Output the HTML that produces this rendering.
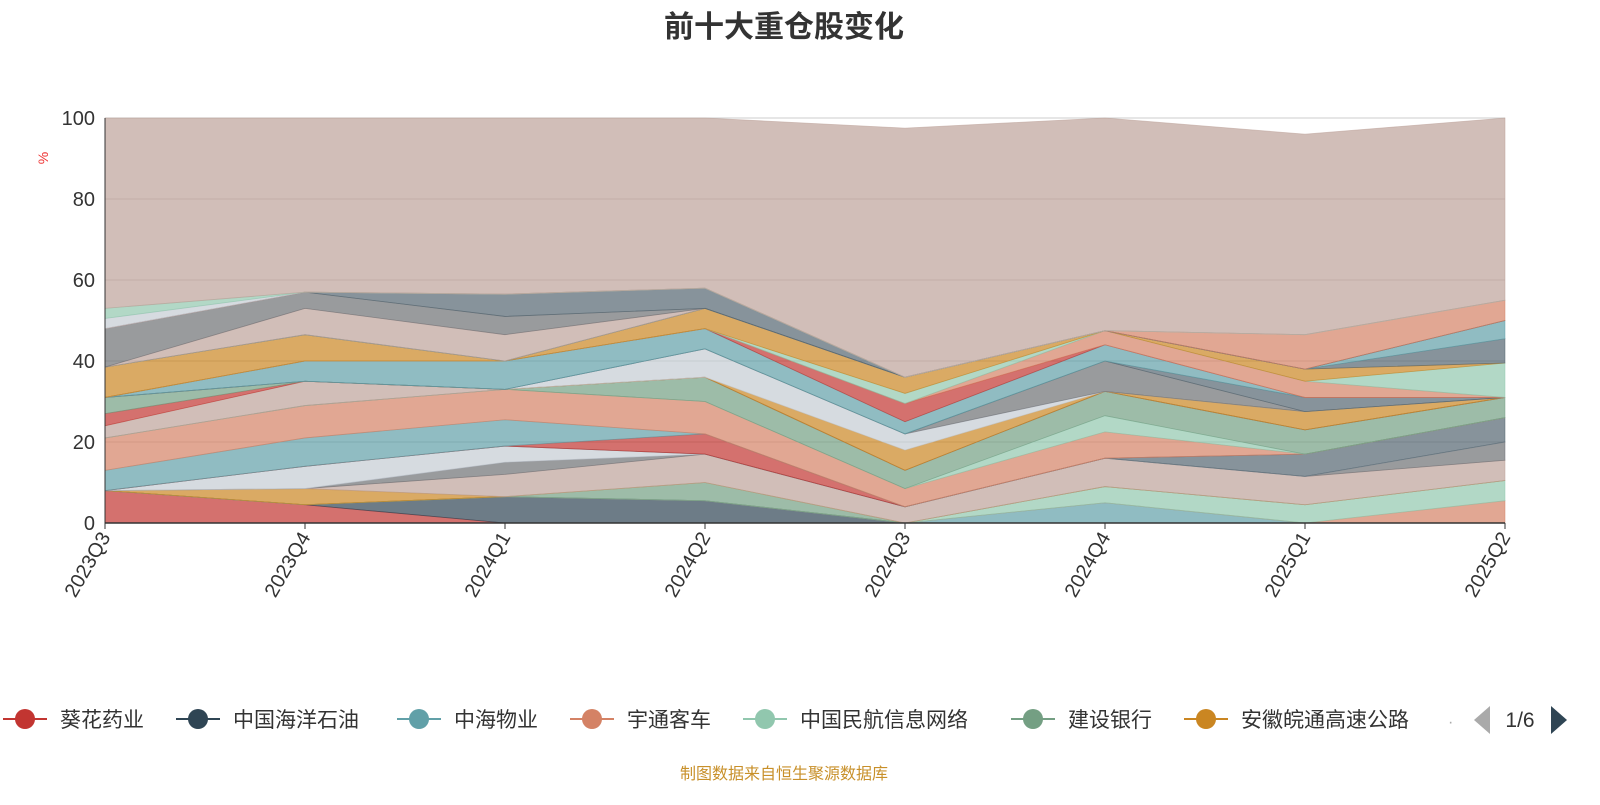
<!DOCTYPE html>
<html><head><meta charset="utf-8"><style>
body{margin:0;background:#fff;width:1600px;height:800px;overflow:hidden;font-family:"Liberation Sans","Noto Sans CJK SC",sans-serif;}
</style></head><body>
<svg id="chart" width="1600" height="800" xmlns="http://www.w3.org/2000/svg" font-family="Liberation Sans, Noto Sans CJK SC, sans-serif">
<text x="784" y="37" text-anchor="middle" font-size="30" font-weight="bold" fill="#333">前十大重仓股变化</text>
<text x="48" y="158" font-size="14" fill="#e33" transform="rotate(-90 48 158)" text-anchor="middle">%</text>
<g id="grid"></g><g id="areas"></g><g id="axes"></g>
<g id="legend"></g>
<text x="784" y="779" text-anchor="middle" font-size="16" fill="#c8902a">制图数据来自恒生聚源数据库</text>
</svg>
<script>
const categories=["2023Q3","2023Q4","2024Q1","2024Q2","2024Q3","2024Q4","2025Q1","2025Q2"];
const yTicks=[0,20,40,60,80,100];
const seriesNames=["葵花药业","中国海洋石油","中海物业","宇通客车","中国民航信息网络","建设银行","安徽皖通高速公路","招商银行","腾讯控股","贵州茅台","中国移动","长江电力","美的集团","格力电器","中国神华","工商银行","紫金矿业","万华化学","平安银行","海尔智家","伊利股份","五粮液","中国平安","宁德时代","比亚迪","恒瑞医药","迈瑞医疗","海螺水泥","农业银行","中国石化","交通银行","兴业银行","牧原股份","京沪高铁","中远海控","顺丰控股","其他"];
const seriesColors=["#c23531","#2f4554","#61a0a8","#d48265","#91c7ae","#749f83","#ca8622","#bda29a","#6e7074","#c4ccd3","#546570","#c23531","#61a0a8","#d48265","#91c7ae","#749f83","#bda29a","#c23531","#749f83","#ca8622","#c4ccd3","#6e7074","#546570","#61a0a8","#c23531","#d48265","#91c7ae","#ca8622","#546570","#61a0a8","#bda29a","#6e7074","#546570","#d48265","#c4ccd3","#91c7ae","#bda29a"];
const s01=[8,4.5,0,0,0,0,0,0];
const s02=[0,0,6.5,5.5,0,0,0,0];
const s03=[0,0,0,0,0,5,0,0];
const s04=[0,0,0,0,0,0,0,5.5];
const s05=[0,0,0,0,0,4,4.5,5];
const s06=[0,0,0,4.5,0,0,0,0];
const s07=[0,4,0,0,0,0,0,0];
const s08=[0,0,5.5,7,4,7,7,5];
const s09=[0,0,3,0,0,0,0,4.5];
const s10=[0,5.5,4,0,0,0,0,0];
const s11=[0,0,0,0,0,0,5.5,6];
const s12=[0,0,0,5,0,0,0,0];
const s13=[5,7,6.5,0,0,0,0,0];
const s14=[8,8,7.5,8,4.5,6.5,0,0];
const s15=[0,0,0,0,0,4,0,0];
const s16=[0,0,0,6,4.5,6,6,5];
const s17=[3,6,0,0,0,0,0,0];
const s18=[3,0,0,0,0,0,0,0];
const s19=[4,0,0,0,0,0,0,0];
const s20=[0,0,0,0,5,0,4.5,0];
const s21=[0,0,0,7,4,0,0,0];
const s22=[0,0,0,0,0,7.5,0,0];
const s23=[0,0,0,0,0,0,3.5,0];
const s24=[0,5,7,5,3,4,0,0];
const s25=[0,0,0,0,4.5,0,0,0];
const s26=[0,0,0,0,0,3.5,4,0];
const s27=[0,0,0,0,2.5,0,0,8.5];
const s28=[7.5,6.5,0,5,4,0,3,0];
const s29=[0,0,0,0,0,0,0,6];
const s30=[0,0,0,0,0,0,0,4.5];
const s31=[0,6.5,6.5,0,0,0,0,0];
const s32=[9.5,4,4.5,0,0,0,0,0];
const s33=[0,0,5.5,5,0,0,0,0];
const s34=[0,0,0,0,0,0,8.5,5];
const s35=[2.5,0,0,0,0,0,0,0];
const s36=[2.5,0,0,0,0,0,0,0];
const sOther=[47,43,43.5,42,61.5,52.5,49.5,45];
const seriesValues=[s01,s02,s03,s04,s05,s06,s07,s08,s09,s10,s11,s12,s13,s14,s15,s16,s17,s18,s19,s20,s21,s22,s23,s24,s25,s26,s27,s28,s29,s30,s31,s32,s33,s34,s35,s36,sOther];

const NS="http://www.w3.org/2000/svg";
const X0=105,X1=1505,Y0=523,Y1=118;
const xs=i=>X0+(X1-X0)*i/(categories.length-1);
const ys=v=>Y0-(Y0-Y1)*v/100;
function mk(t,a){const e=document.createElementNS(NS,t);for(const k in a)e.setAttribute(k,a[k]);return e;}
const grid=document.getElementById('grid'),axes=document.getElementById('axes'),areas=document.getElementById('areas'),leg=document.getElementById('legend');
yTicks.forEach(t=>{
  if(t>0){const l=mk('line',{x1:X0,x2:X1,y1:ys(t),y2:ys(t),stroke:'#ccc','stroke-width':1});
  
  grid.appendChild(l);}
  const tx=mk('text',{x:X0-10,y:ys(t)+7,'text-anchor':'end','font-size':20,fill:'#333'});tx.textContent=t;
  
  axes.appendChild(tx);
});
let cum=categories.map(()=>0);
seriesValues.forEach((vals,si)=>{
  const bottom=cum.slice();const top=cum.map((c,i)=>c+vals[i]);
  let d='M'+top.map((v,i)=>xs(i)+','+ys(v)).join('L');
  for(let i=categories.length-1;i>=0;i--)d+='L'+xs(i)+','+ys(bottom[i]);
  d+='Z';
  const p=mk('path',{d:d,fill:seriesColors[si],'fill-opacity':0.7,stroke:seriesColors[si],'stroke-opacity':0.6,'stroke-width':0.8});
  
  
  areas.appendChild(p);cum=top;
});
const ax=mk('line',{x1:X0,x2:X0,y1:Y1,y2:Y0,stroke:'#333','stroke-width':1});

axes.appendChild(ax);
const bx=mk('line',{x1:X0,x2:X1,y1:Y0,y2:Y0,stroke:'#333','stroke-width':1.5});

axes.appendChild(bx);
categories.forEach((c,i)=>{
  const tk=mk('line',{x1:xs(i),x2:xs(i),y1:Y0,y2:Y0+6,stroke:'#333'});
  
  axes.appendChild(tk);
  const tx=mk('text',{x:xs(i)+6,y:Y0+14,'text-anchor':'end','font-size':20,fill:'#333',transform:'rotate(-60 '+(xs(i)+6)+' '+(Y0+14)+')'});
  tx.textContent=c;
  
  axes.appendChild(tx);
});
const legX=[25,198,419,592,765,1033,1206];
for(let i=0;i<7;i++){
  const g=mk('g',{});
  
  
  g.appendChild(mk('line',{x1:legX[i]-22,x2:legX[i]+22,y1:719,y2:719,stroke:seriesColors[i],'stroke-width':2}));
  g.appendChild(mk('circle',{cx:legX[i],cy:719,r:10,fill:seriesColors[i]}));
  const t=mk('text',{x:legX[i]+35,y:727,'font-size':21,fill:'#333'});t.textContent=seriesNames[i];g.appendChild(t);
  leg.appendChild(g);
}
const dot=mk('text',{x:1448,y:727,'font-size':16,fill:'#aaa'});dot.textContent='·';

leg.appendChild(dot);
const pl=mk('path',{d:'M1490,706L1490,734L1474,720Z',fill:'#aaa'});

leg.appendChild(pl);
const pt=mk('text',{x:1520,y:727,'font-size':21,fill:'#333','text-anchor':'middle'});pt.textContent='1/6';

leg.appendChild(pt);
const pr=mk('path',{d:'M1551,706L1551,734L1567,720Z',fill:'#2f4554'});

leg.appendChild(pr);
</script>
</body></html>
